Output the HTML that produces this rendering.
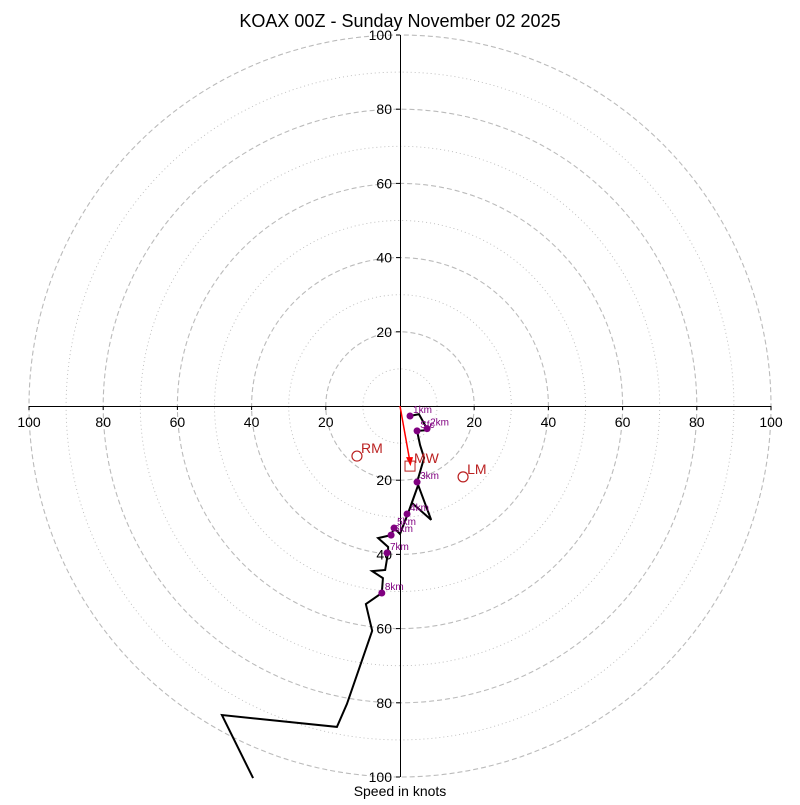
<!DOCTYPE html>
<html><head><meta charset="utf-8"><style>body{margin:0;background:#fff}svg{font-family:"Liberation Sans","DejaVu Sans",sans-serif}</style></head>
<body>
<svg id="c" width="800" height="800" viewBox="0 0 800 800">
<rect width="800" height="800" fill="#fff"/>
<text x="400" y="27" text-anchor="middle" font-size="18">KOAX 00Z - Sunday November 02 2025</text>
<text x="400" y="796" text-anchor="middle" font-size="14">Speed in knots</text>
<g id="grid"></g><g id="axes"></g><g id="series"></g>
</svg>
<script>
const ringVals=[10,20,30,40,50,60,70,80,90,100];
const tickVals=[20,40,60,80,100];
// hodograph wind components (u, v) in knots
const hodoU=[2.7,5.1,7.5,4.6,5.4,6.5,4.6,8.4,3.2,4.9,2.2,0,-1.6,-2.4,-5.9,-3.2,-3.2,-4.0,-7.5,-4.6,-4.9,-9.2,-7.5,-14.3,-17.0,-48.0,-39.6];
const hodoV=[-2.7,-2.2,-6.5,-6.7,-10.5,-14.0,-20.5,-30.7,-26.1,-21.3,-28.8,-34.5,-32.9,-34.8,-35.6,-38.0,-39.4,-44.2,-44.5,-46.4,-50.4,-53.4,-60.6,-80.3,-86.5,-83.3,-100.3];
const markLabels=["1km","Sfc","2km","3km","4km","5km","6km","7km","8km"];
const markU=[2.7,4.6,7.3,4.6,1.9,-1.6,-2.4,-3.5,-4.9];
const markV=[-2.7,-6.7,-6.1,-20.5,-29.1,-32.9,-34.8,-39.6,-50.4];
const motionLabels=["RM","MW","LM"];
const motionU=[-11.6,2.7,17.0];
const motionV=[-13.5,-16.2,-19.1];
const cx=400,cy=406,R=371,maxV=100;
const sx=u=>cx+u/maxV*R, sy=v=>cy-v/maxV*R;
const NS="http://www.w3.org/2000/svg";
function mk(tag,attrs,parent){const e=document.createElementNS(NS,tag);for(const k in attrs)e.setAttribute(k,attrs[k]);parent.appendChild(e);return e;}
const grid=document.getElementById('grid'),axes=document.getElementById('axes'),ser=document.getElementById('series');
ringVals.forEach(r=>{
 const c=mk('circle',{cx:cx,cy:cy,r:r/maxV*R,fill:'none',stroke:'#bbb','stroke-width':r%20==0?1.1:0.9,'stroke-dasharray':r%20==0?'5,3':'1,3'},grid);
 
 
});
let l=mk('line',{x1:sx(-100),y1:cy+0.5,x2:sx(100),y2:cy+0.5,stroke:'#000','stroke-width':1},axes);


l=mk('line',{x1:cx+0.5,y1:sy(100),x2:cx+0.5,y2:sy(-100),stroke:'#000','stroke-width':1},axes);


tickVals.forEach(t=>{
 [t,-t].forEach(s=>{
  mk('line',{x1:sx(s),y1:cy,x2:sx(s),y2:cy+4,stroke:'#000'},axes);
  let tx=mk('text',{x:sx(s),y:cy+21,'text-anchor':'middle','font-size':14},axes);tx.textContent=t;
  
  
  mk('line',{x1:cx-4,y1:sy(s),x2:cx,y2:sy(s),stroke:'#000'},axes);
  let ty=mk('text',{x:cx-8,y:sy(s)+5,'text-anchor':'end','font-size':14},axes);ty.textContent=t;
  
  
 });
});
const pts=hodoU.map((u,i)=>sx(u)+','+sy(hodoV[i])).join(' ');
const pl=mk('polyline',{points:pts,fill:'none',stroke:'#000','stroke-width':2,'stroke-linejoin':'miter'},ser);


markU.forEach((u,i)=>{
 const d=mk('circle',{cx:sx(u),cy:sy(markV[i]),r:3.5,fill:'purple'},ser);
 
 
 const t=mk('text',{x:sx(u)+3,y:sy(markV[i])-3,'font-size':10,fill:'purple'},ser);t.textContent=markLabels[i];
 
 
});
const ar=mk('line',{x1:cx,y1:cy,x2:sx(motionU[1]),y2:sy(motionV[1])-4,stroke:'red','stroke-width':1.5},ser);


mk('polygon',{points:`${sx(motionU[1])+0.5},${sy(motionV[1])} ${sx(motionU[1])-4},${sy(motionV[1])-9} ${sx(motionU[1])+3},${sy(motionV[1])-9}`,fill:'red'},ser);
motionU.forEach((u,i)=>{
 const x=sx(u),y=sy(motionV[i]);
 let m;
 if(motionLabels[i]=='MW') m=mk('rect',{x:x-5,y:y-5,width:10,height:10,fill:'none',stroke:'#b22','stroke-width':1},ser);
 else m=mk('circle',{cx:x,cy:y,r:5,fill:'none',stroke:'#b22','stroke-width':1.2},ser);
 
 
 const t=mk('text',{x:x+4,y:y-3,'font-size':14,fill:'#b22'},ser);t.textContent=motionLabels[i];
 
 
});
</script>
</body></html>
